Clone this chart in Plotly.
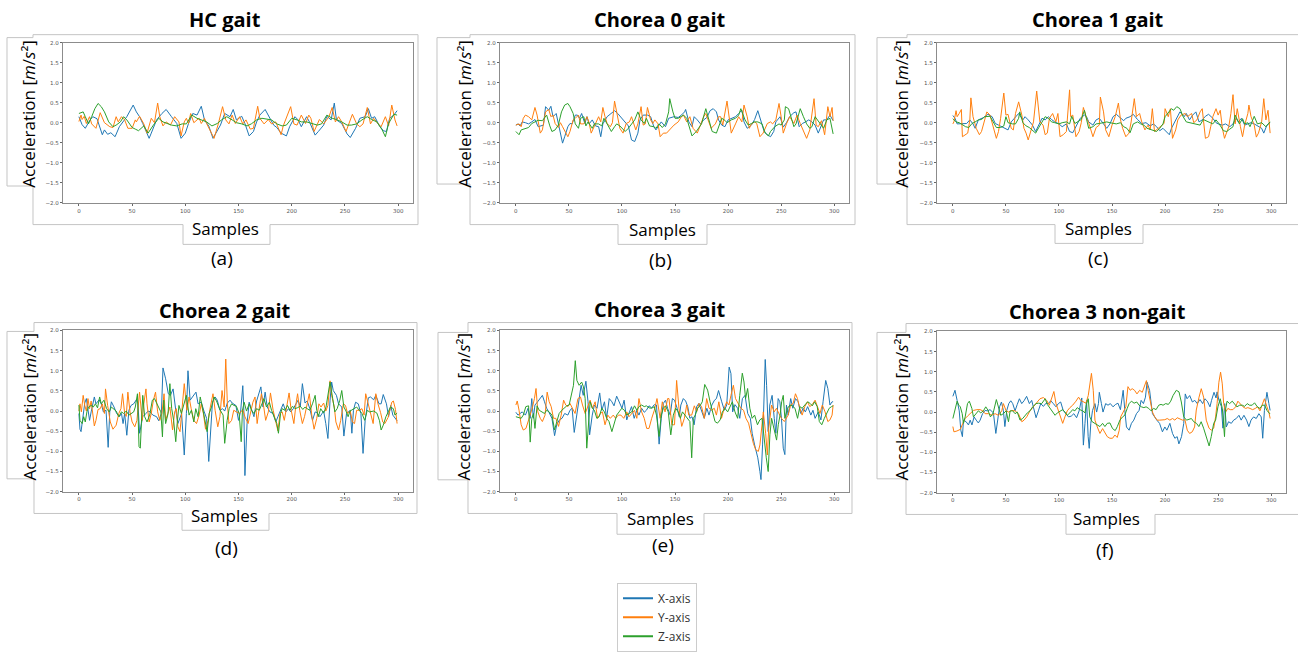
import plotly.graph_objects as go

W, H = 1298, 652

SERIES_NAMES = ["X-axis", "Y-axis", "Z-axis"]
COLORS = ["#1f77b4", "#ff7f0e", "#2ca02c"]
TITLES = ["HC gait", "Chorea 0 gait", "Chorea 1 gait", "Chorea 2 gait", "Chorea 3 gait", "Chorea 3 non-gait"]
CAPTIONS = ["(a)", "(b)", "(c)", "(d)", "(e)", "(f)"]
X_TICKS = [0, 50, 100, 150, 200, 250, 300]
Y_TICKS = [-2.0, -1.5, -1.0, -0.5, 0.0, 0.5, 1.0, 1.5, 2.0]

# ---------------- (a) HC gait : (sample, acceleration) ----------------
A_X = [(0,.15),(3,-.05),(6,-.14),(10,.05),(13,.15),(17,.10),(22,-.30),(24,-.18),(27,-.29),(30,-.25),(34,-.35),(38,-.10),(45,.15),(51,.44),(54,.27),(57,.15),(60,-.02),(66,-.39),(68,-.26),(73,.07),(78,.23),(82,.33),(87,.15),(92,-.02),(96,-.39),(100,-.26),(103,-.02),(107,.23),(111,.19),(115,.41),(118,.07),(122,-.08),(126,-.39),(129,-.26),(133,-.06),(137,.23),(142,.15),(145,.33),(148,.07),(153,.16),(156,-.02),(160,-.33),(164,-.22),(167,.02),(170,.19),(175,.33),(179,.15),(183,-.06),(186,-.12),(190,-.26),(195,-.33),(198,-.10),(203,.15),(206,.07),(209,-.10),(214,.15),(217,0),(222,-.31),(225,-.22),(230,-.06),(233,.16),(237,.07),(240,.49),(242,.07),(247,-.02),(252,-.28),(255,-.37),(260,-.14),(264,.11),(269,.15),(272,.35),(275,.11),(278,.15),(282,-.06),(286,-.20),(289,-.22),(292,.11),(296,.19),(299,.30)]
A_Y = [(0,.03),(2,.19),(3,.08),(5,.16),(7,-.02),(10,.15),(12,-.03),(16,-.14),(20,.25),(24,0),(29,-.10),(32,-.12),(35,.15),(37,.02),(40,.15),(43,.07),(46,-.14),(50,-.14),(53,.07),(54,.02),(57,.16),(61,-.03),(64,-.26),(68,.11),(71,0),(74,.49),(76,.15),(79,-.08),(82,.02),(86,-.06),(90,.15),(94,.02),(96,-.33),(99,.02),(101,.11),(103,-.02),(105,.23),(108,0),(111,.07),(113,.11),(115,-.02),(118,.11),(120,-.02),(125,-.26),(127,-.39),(131,-.03),(135,.40),(138,.07),(141,-.03),(144,.19),(147,-.02),(151,.15),(154,-.03),(157,.07),(161,-.16),(164,-.14),(168,.41),(170,.11),(174,-.03),(178,.08),(181,-.03),(185,.02),(190,-.30),(192,-.08),(199,.40),(202,-.03),(205,-.06),(209,.19),(213,-.02),(216,.19),(218,.11),(221,-.22),(224,-.06),(226,.08),(230,-.03),(235,.15),(238,.38),(241,.02),(244,.15),(247,.02),(251,-.22),(255,.07),(257,.21),(261,-.03),(264,-.10),(267,-.03),(271,.38),(274,-.03),(277,.11),(281,-.02),(284,-.10),(288,.15),(291,-.08),(294,.44),(297,.07),(299,-.08)]
A_Z = [(0,.23),(4,.27),(6,.15),(9,-.03),(12,.15),(15,.35),(18,.48),(21,.40),(24,.27),(28,.02),(32,-.10),(35,-.06),(39,.02),(42,.15),(45,.07),(50,-.12),(53,-.16),(56,-.20),(61,-.08),(65,-.26),(70,-.06),(75,.11),(79,.02),(83,-.02),(87,-.06),(92,-.08),(97,-.03),(101,-.03),(106,.19),(111,.11),(115,.07),(120,.02),(125,-.08),(130,-.02),(134,.07),(139,.15),(144,.07),(148,0),(153,-.03),(158,-.08),(162,-.03),(167,.07),(172,.11),(177,.08),(181,.07),(186,-.03),(191,-.08),(195,-.06),(200,.11),(205,.07),(209,.02),(214,.02),(219,-.03),(224,-.06),(228,-.03),(233,.19),(238,.11),(242,.08),(247,.02),(252,-.06),(256,-.06),(261,-.03),(266,.07),(271,.15),(275,.08),(280,.02),(285,-.18),(288,-.35),(291,-.02),(296,.21),(299,.19)]

# ---------------- (b) Chorea 0 gait ----------------
B_X = [(0,-.06),(2,-.03),(4,-.08),(6,.02),(9,0),(12,-.03),(15,.02),(18,.08),(21,-.10),(26,-.06),(28,.40),(31,.31),(33,.41),(35,.15),(38,.23),(40,0),(42,-.26),(44,-.51),(46,-.35),(49,-.10),(51,-.02),(53,-.03),(56,.19),(58,.19),(60,.11),(62,.23),(65,-.02),(67,.15),(69,-.03),(72,.07),(75,-.08),(78,-.10),(80,-.35),(82,-.03),(86,.15),(89,.21),(93,.30),(96,.23),(99,.13),(103,.02),(106,-.08),(109,-.43),(112,-.47),(115,-.26),(117,.07),(120,.19),(124,.19),(127,.15),(130,-.10),(132,-.18),(135,-.06),(137,.02),(141,-.10),(144,.11),(149,.15),(153,.13),(156,.19),(159,.27),(160,.33),(163,.02),(166,-.10),(168,.15),(171,.07),(174,-.03),(177,.07),(180,.13),(183,.30),(186,.35),(189,.27),(191,.07),(194,-.06),(197,-.10),(200,.07),(203,.11),(207,.15),(210,.23),(213,.31),(215,.02),(218,-.14),(222,-.06),(225,.08),(228,.30),(231,.02),(234,-.22),(237,-.30),(240,-.35),(243,-.22),(245,.02),(249,.15),(252,-.11),(255,0),(258,.15),(262,.25),(264,.27),(267,-.10),(270,-.02),(273,.02),(276,.07),(279,.02),(282,-.06),(285,-.26),(287,-.11),(290,.07),(293,.07),(296,.19),(299,.05)]
B_Y = [(0,-.06),(3,-.03),(5,-.10),(7,.11),(9,.19),(12,.15),(15,.07),(18,.38),(20,.19),(23,-.26),(25,-.18),(28,.27),(31,.33),(33,.15),(35,.19),(37,-.02),(40,-.12),(42,0),(44,-.10),(47,-.26),(49,-.35),(51,-.22),(54,.07),(56,.11),(59,.19),(61,-.03),(64,-.03),(67,.15),(69,0),(71,-.26),(75,-.03),(78,.15),(80,.02),(82,.38),(84,.15),(86,-.02),(89,-.10),(91,0),(93,.54),(96,.15),(98,-.14),(101,-.26),(104,-.02),(107,.02),(109,.15),(113,-.18),(115,-.03),(118,.40),(120,-.06),(122,-.03),(124,.38),(127,.07),(129,-.02),(131,.07),(134,-.03),(136,-.35),(139,-.26),(142,-.26),(146,-.14),(149,-.06),(153,.02),(156,.15),(158,.19),(161,.02),(164,.15),(167,-.14),(171,-.26),(174,-.06),(177,.15),(179,.23),(182,-.03),(184,-.14),(188,-.03),(191,.15),(193,.15),(195,-.06),(199,.54),(201,.15),(203,-.26),(207,-.03),(210,.15),(213,.02),(215,.44),(218,.15),(220,-.14),(222,-.03),(225,.02),(227,-.02),(230,-.35),(233,-.26),(237,-.02),(240,.02),(242,-.03),(245,.07),(248,.48),(250,.15),(252,-.26),(255,-.03),(258,.15),(262,-.02),(265,.19),(268,-.02),(270,-.14),(274,-.39),(277,-.18),(281,.60),(283,-.06),(285,-.10),(288,.05),(291,-.30),(294,.40),(296,.15),(298,.38),(299,.05)]
B_Z = [(0,-.22),(3,-.30),(5,-.18),(9,-.14),(12,-.12),(15,-.02),(18,.02),(21,.06),(25,.05),(29,.19),(32,-.08),(34,-.22),(37,-.18),(40,-.06),(43,.27),(46,.44),(49,.48),(51,.40),(54,.23),(56,-.03),(59,-.14),(61,.11),(64,.15),(66,-.08),(68,.02),(72,-.14),(74,-.03),(78,-.03),(81,-.08),(83,.11),(86,-.03),(90,-.22),(93,-.10),(95,-.03),(98,-.08),(103,-.22),(106,-.14),(109,-.03),(112,.07),(115,.27),(118,.07),(121,-.02),(123,.11),(126,-.08),(130,-.10),(132,-.14),(135,-.03),(138,-.12),(141,-.03),(144,.27),(145,.60),(148,.27),(150,.11),(153,.11),(156,.15),(158,.19),(161,.11),(165,-.22),(166,-.33),(170,-.22),(173,-.10),(175,-.03),(179,.35),(182,.07),(185,-.22),(189,-.26),(192,-.03),(194,.11),(197,.06),(199,0),(203,.07),(207,.11),(210,.19),(212,.35),(216,.07),(219,-.06),(222,-.02),(225,.02),(228,.02),(232,-.03),(235,-.26),(238,-.33),(240,-.22),(244,-.10),(248,-.03),(250,-.06),(253,.07),(254,.40),(257,.35),(260,.07),(262,-.10),(264,-.03),(268,.35),(271,.15),(274,-.03),(277,-.14),(279,-.10),(282,.15),(286,.02),(290,-.14),(293,.07),(296,.11),(299,-.28)]

# ---------------- (c) Chorea 1 gait ----------------
C_X = [(0,.18),(2,.11),(4,-.03),(8,-.03),(13,-.02),(16,.07),(19,-.03),(21,-.14),(24,.07),(29,.13),(33,.21),(37,.15),(40,-.02),(43,-.06),(46,-.10),(49,-.14),(52,-.18),(55,.02),(59,.15),(62,.23),(66,.07),(68,.15),(71,.07),(75,-.06),(78,-.22),(81,-.06),(84,.11),(87,.07),(90,.15),(93,.08),(96,.02),(100,-.03),(103,-.10),(107,-.03),(110,-.22),(113,-.25),(117,-.03),(120,.11),(124,.19),(126,.15),(128,.02),(132,-.06),(135,.07),(138,.11),(142,-.03),(145,-.14),(148,-.03),(151,.15),(154,.21),(158,.13),(161,.05),(163,.11),(167,.15),(170,.21),(174,.08),(178,-.02),(182,0),(186,-.08),(189,-.03),(192,-.10),(195,-.20),(198,-.14),(201,-.22),(204,-.30),(206,-.14),(209,.02),(212,.15),(214,.27),(218,.15),(220,.23),(223,.07),(226,.19),(229,.27),(232,.02),(235,.07),(238,.16),(241,.21),(245,.11),(248,0),(250,-.03),(254,-.06),(257,-.03),(261,-.10),(264,-.03),(267,.11),(269,.02),(272,.11),(275,-.06),(278,-.03),(281,0),(284,-.03),(288,-.10),(291,-.14),(293,-.26),(296,-.06),(299,0)]
C_Y = [(0,-.03),(1,.02),(3,.30),(4,.15),(6,.23),(8,.33),(9,-.35),(11,-.31),(14,-.26),(16,.07),(17,.62),(19,.15),(22,-.14),(25,-.30),(27,-.22),(30,.07),(32,.27),(35,.19),(37,-.02),(41,-.39),(43,-.22),(45,.11),(48,.74),(50,.19),(52,.21),(55,-.14),(57,-.18),(59,.23),(62,.52),(65,.19),(67,-.14),(69,-.26),(71,-.43),(73,-.22),(76,.02),(79,.79),(82,.02),(85,-.06),(87,-.30),(89,-.26),(91,.11),(94,.23),(97,.02),(99,.23),(101,-.35),(104,-.30),(107,-.22),(110,.82),(111,.15),(113,.19),(116,-.35),(119,-.22),(121,0),(123,.38),(126,.11),(128,0),(132,-.35),(135,-.12),(138,-.06),(139,.64),(142,.27),(144,-.18),(147,-.35),(150,-.06),(153,.15),(156,.49),(158,.07),(160,-.14),(163,-.35),(166,-.26),(168,.02),(171,.60),(173,.15),(176,.23),(178,.02),(181,-.18),(184,-.06),(186,-.18),(188,.35),(190,-.22),(193,-.16),(196,-.10),(199,-.02),(200,.35),(203,.15),(205,.35),(207,-.39),(210,-.18),(212,.07),(215,.19),(219,.23),(221,.15),(225,.23),(227,0),(230,.07),(233,.27),(235,.35),(238,-.39),(241,-.35),(243,-.10),(245,.15),(248,.35),(250,.19),(252,.31),(254,-.14),(256,-.39),(260,-.10),(262,.23),(264,.70),(266,-.03),(268,.35),(271,-.10),(273,-.35),(275,-.06),(278,.23),(279,.44),(281,.15),(284,-.06),(286,-.36),(288,-.26),(291,.02),(293,.60),(295,.07),(297,.31),(299,-.26)]
C_Z = [(0,.10),(3,.02),(6,0),(8,-.03),(12,-.10),(15,-.12),(18,-.02),(21,.02),(24,.07),(27,.08),(30,.15),(35,.16),(38,0),(41,-.12),(45,-.12),(48,-.08),(50,.15),(52,0),(56,-.03),(59,-.03),(62,.11),(63,.27),(66,0),(69,-.08),(72,-.12),(76,-.22),(78,-.26),(81,-.12),(84,0),(87,.15),(90,.11),(93,.02),(96,0),(100,-.03),(103,0),(107,.02),(110,-.03),(112,.16),(115,-.02),(118,.02),(121,.08),(124,.31),(126,.07),(128,-.14),(132,-.10),(135,-.03),(138,-.02),(142,0),(145,.02),(148,0),(151,-.02),(154,-.03),(158,0),(161,-.10),(164,-.14),(167,-.25),(170,-.03),(174,.02),(177,-.03),(180,-.06),(183,-.14),(187,-.18),(192,-.22),(195,-.14),(198,-.03),(200,.15),(203,.25),(206,.35),(208,.31),(211,.40),(214,.35),(217,.15),(220,.02),(224,0),(227,-.03),(230,-.03),(233,-.06),(236,.08),(239,.05),(242,.02),(245,-.03),(248,.07),(251,-.03),(255,-.20),(258,-.22),(261,-.16),(264,-.10),(266,.19),(270,-.03),(273,.10),(275,-.03),(278,0),(280,-.10),(284,.16),(287,-.03),(291,0),(295,-.10),(299,.02)]

# ---------------- (d) Chorea 2 gait ----------------
D_X = [(0,-.06),(1,-.45),(2,-.51),(4,-.14),(5.5,.20),(7,.31),(8.5,.09),(10,-.23),(11.5,-.02),(13,.18),(14.5,.35),(16,.18),(19,.28),(21,.18),(23,-.02),(25.5,.02),(27.5,-.90),(29,-.02),(30.5,.23),(33,.10),(35.5,-.06),(38,-.14),(40,-.06),(41.5,-.31),(43,-.06),(45,-.60),(47,.02),(49,.14),(51.5,.18),(54,.28),(55.5,.20),(57,-.55),(58.5,-.31),(60,-.14),(63,-.06),(65,0),(67,-.02),(69.5,-.10),(73,-.14),(75,-.24),(77.5,-.06),(79,1.07),(81.5,.80),(84,.43),(86,.39),(88.5,.55),(91,.02),(93,-.31),(96.5,-.06),(99,-1.09),(101,-.06),(102.5,1.0),(104.5,.27),(107,.35),(110,.47),(112,.18),(115,.22),(117.5,0),(120,-.18),(122,-1.25),(124,-.31),(125.5,.22),(128,.35),(130,.27),(132.5,.02),(135,.06),(137,0),(139.5,.20),(142,.27),(144,.20),(147.5,.14),(150,-.23),(152,0),(154,.63),(155,.02),(156,-1.6),(158,-.31),(160,.22),(162,.06),(164.5,-.14),(167,.25),(169,.43),(171,.60),(173,.10),(175,.47),(177,.10),(179.5,-.02),(182.5,-.06),(185,-.27),(187,-.14),(189.5,.02),(192,.18),(194.5,-.02),(197,.06),(199,-.02),(201.5,.06),(204,.18),(206,.27),(208,.10),(210,.68),(212.5,.20),(214.5,.25),(217,.06),(219.5,-.23),(222,-.02),(224,-.05),(226.5,-.14),(230,0),(232,-.31),(234,-.68),(236,.27),(237.5,.72),(239,.51),(242,.39),(244,.18),(247,.10),(249,-.62),(251.5,-.06),(255,.02),(256.5,-.55),(258,.02),(260,.22),(262.5,.18),(265,-.06),(267,-1.05),(269,-.23),(272,.33),(274,.35),(277,.28),(279,.39),(282,.18),(284,.18),(286,.41),(289,.18),(291,-.14),(293,.14),(295,-.10),(297,-.18),(299,-.24)]
D_Y = [(0,0),(1,.18),(2.3,-.02),(4,.39),(5.5,.14),(7,0),(8.5,.31),(10,.06),(11.5,.25),(13,-.02),(14.5,-.37),(16,-.23),(18,.04),(20,.06),(22,.18),(24,-.06),(25,.55),(27,.14),(29.5,-.27),(32,-.45),(35,-.35),(37.5,-.06),(39.5,.06),(41,.43),(43,-.06),(44.5,-.13),(46,.47),(48,-.02),(50,-.27),(52.5,-.39),(54.5,-.23),(57,.47),(59.5,-.23),(61,.18),(63,.55),(64,.18),(66,-.27),(68,-.06),(70,.27),(72,.47),(74,-.02),(76,-.23),(78,-.06),(80,.43),(81.5,-.23),(84,-.02),(85.5,.10),(88,-.47),(90,-.02),(91.5,.06),(93,-.39),(95,-.51),(96.5,-.06),(99,.68),(101.5,.02),(103.5,.35),(105.5,.06),(108,-.23),(110.5,-.31),(113,-.10),(115,.18),(117,-.06),(119,-.45),(121.5,-.23),(123.5,.10),(126,.43),(128,.02),(130.5,-.39),(132.5,-.14),(134.5,.51),(136.5,.10),(138,1.29),(139.5,.18),(141,-.31),(143.5,-.23),(145.5,.02),(148,-.02),(151,-.06),(154,.04),(156,-.14),(159,-.31),(161,-.06),(163.5,.22),(165.5,.35),(167.5,-.31),(170,.18),(171.5,.43),(173.5,.14),(175.5,-.23),(178,-.02),(180,.45),(182.5,.02),(185,-.31),(187,-.49),(189,-.06),(191,-.02),(193,-.23),(195.5,.18),(197.5,.45),(199.5,.02),(202,-.31),(204,.18),(205.5,.43),(207.5,.02),(210,-.31),(212,-.14),(214.5,.14),(216.5,.43),(219,-.14),(221,-.45),(223.5,-.18),(225.5,.18),(227.5,.10),(230,.20),(232,0),(234,.14),(236,.75),(237.5,.39),(240,.10),(241.5,-.27),(244,-.47),(246,-.23),(248.5,.18),(250.5,.14),(252.5,-.06),(255,0),(257,-.27),(259,-.31),(261,.02),(263.5,.02),(266,.06),(268,-.10),(269.5,.43),(272,.14),(274,-.06),(276.5,-.31),(279,.43),(281,.18),(283.5,-.04),(285.5,-.27),(287.5,-.31),(290.5,-.16),(294,.22),(295.5,.25),(297.5,.04),(299,-.31)]
D_Z = [(0,.15),(1,-.23),(3,-.31),(4.5,-.14),(6,-.27),(7.5,-.02),(9,.10),(11.5,.14),(13.5,.10),(15.5,.18),(17.5,.08),(19.5,.35),(21,.18),(23.5,.27),(26,.06),(28.5,-.02),(30.5,.10),(32.5,.06),(35,0),(37.5,-.14),(40,-.02),(42,-.06),(44.5,0),(47,-.10),(49,-.06),(51.5,-.02),(53,.10),(55,.43),(56.5,-.88),(57.7,-.92),(58.7,-.31),(60,.39),(61.8,-.14),(64,-.27),(66.5,-.10),(69,.27),(71,.31),(73.5,.18),(75.5,.06),(77,-.02),(78.5,-.64),(79.7,.27),(81.5,-.31),(83.8,-.06),(85.5,.68),(87.2,.06),(89,-.23),(91,-.76),(92.3,-.31),(94,.14),(96.3,-.06),(98.5,.18),(101,.39),(103.5,-.10),(105.7,.02),(108,-.27),(109.8,.06),(112,-.14),(114,.35),(116,.10),(118.3,-.23),(120.5,-.51),(122.4,-.06),(124.6,.10),(127,.35),(129.3,.25),(132.4,.04),(135.5,-.10),(137,-.80),(139.3,-.23),(141.2,.06),(143.5,.18),(145.7,.14),(148,.12),(150.6,-.06),(152.5,-.76),(153.7,.02),(155.3,.22),(157.5,0),(160,.18),(162.2,.02),(164.4,-.06),(167,.06),(169.5,.02),(172,.18),(173.8,.31),(176.3,.10),(179,.22),(181,.02),(183.3,-.14),(186,-.31),(187.5,-.55),(189.5,-.06),(191,.06),(193.6,.02),(196,.14),(198.3,.02),(200.8,.12),(203,.06),(205.2,.08),(208,.12),(210.4,.04),(212.5,.10),(214.5,.06),(217,.02),(219.5,.18),(222,.39),(223.5,.02),(225,-.14),(227.2,.06),(230,-.05),(232.2,.10),(234.5,.47),(236,.72),(238.5,.31),(240.5,-.02),(242.7,.06),(245.2,.27),(247,.51),(249,.10),(251,0),(253,-.14),(254.8,0),(258,.06),(261,.10),(263.5,.02),(266,-.06),(268.5,-.23),(271,.02),(273,-.02),(277,0),(280,-.05),(282.5,-.24),(284,-.47),(286,-.35),(288.5,-.14),(290.5,-.02),(292.8,.10),(295.5,.06),(297,-.10),(299,-.05)]

# ---------------- (e) Chorea 3 gait ----------------
E_X = [(0,-.03),(2,-.10),(4,-.06),(6,-.02),(9,-.10),(11.5,.07),(13.5,-.18),(15,.31),(16.5,-.18),(18,.15),(20.5,.23),(23,.31),(25,.39),(27,.23),(29,.07),(31,-.02),(34,-.18),(36.5,-.61),(38.5,-.34),(41,-.22),(43.5,-.18),(46,-.06),(49,-.10),(51,.02),(53,.07),(55,-.53),(57,-.18),(59,.15),(61.5,.64),(63.5,.39),(66,.74),(68,.23),(69.5,-.59),(72,-.10),(74,.15),(76.5,.07),(79,.45),(81,.02),(83.5,.23),(85.5,-.18),(88,.31),(90.5,.23),(92.5,.13),(95,.37),(97.5,.23),(100,.07),(102,.27),(104.5,-.22),(106.5,-.06),(109,.11),(111.5,-.18),(114,.02),(116,-.10),(118.5,.07),(121,-.03),(123,.02),(125.5,.13),(128,.08),(130.5,.16),(132.5,.15),(135,-.82),(137,-.18),(139,.19),(141,.27),(143,.07),(145.5,-.10),(147.5,.31),(149.5,.27),(152,.07),(154,-.14),(155.5,.15),(157.8,.31),(160,.25),(162,.11),(164,-.18),(166,-.14),(168,-.34),(170.3,.11),(172.5,.19),(175,.02),(177.5,-.18),(180,.07),(182,-.10),(184.7,.15),(187.2,.27),(189,.31),(191,.51),(194,.23),(196.5,.02),(198.7,.15),(201,1.09),(202.7,.93),(204.3,-.02),(206.5,.16),(209,.07),(211,-.18),(213.5,.31),(216,.39),(218.5,-.06),(221,-.18),(222.7,-.55),(225,-.84),(228,-1.16),(230,-1.5),(231,-1.7),(232.5,-.84),(234,.80),(235,1.28),(236.3,.64),(237.8,-.51),(239.3,.15),(241.5,.39),(243.5,-.18),(245,-.55),(247.2,.31),(248.8,.23),(250.3,-.18),(252,-.92),(253.5,-1.08),(255,.15),(256.6,-.10),(259,.31),(261,.07),(263.5,.31),(266,.23),(268.5,-.06),(270.7,.07),(272.8,-.02),(275,.11),(278,-.10),(280,.02),(282,-.18),(285,-.02),(287.5,-.22),(289.5,.23),(292,.76),(294,.56),(296,.15),(298,.23),(299,.23)]
E_Y = [(0,.15),(1.3,.25),(3,.02),(5,-.34),(7,-.47),(9.5,-.43),(12,-.22),(14,-.06),(15.8,.11),(17.5,.31),(19,.56),(20.7,-.02),(23,-.18),(25,-.26),(27.5,-.10),(29.5,.47),(31.4,.23),(33.3,.11),(35.5,-.18),(37.7,-.18),(40.2,-.38),(42.7,-.10),(45,.27),(47,.15),(49,.11),(51,.19),(53,.07),(55.8,-.06),(58.5,.31),(60.9,.35),(62.8,.15),(65.3,-.06),(68,.13),(70,.27),(72.2,.07),(74.7,.23),(77,-.18),(79.7,-.06),(81.6,-.02),(84,-.34),(86.6,-.10),(89,-.18),(91.8,-.10),(94,-.18),(96.6,-.10),(99,-.10),(101.7,-.18),(104.5,-.02),(106.7,-.14),(109.2,-.06),(111.8,.02),(114,-.18),(116,.31),(118.5,-.02),(121,-.18),(123.3,-.43),(125.5,-.43),(128,-.18),(130.5,.02),(133,.31),(134.3,.07),(136,-.18),(138,.23),(140.6,-.02),(143,.31),(144.3,.31),(147,-.34),(149.5,-.34),(151.5,.76),(153.7,.07),(156.3,-.38),(158.8,-.18),(161,.15),(163,-.10),(165.7,-.10),(168.2,.13),(170.4,-.02),(172.6,.19),(175,.11),(177.6,-.18),(179.8,.31),(182,.07),(184.5,.02),(187,.07),(189,-.10),(191.3,.23),(193.8,-.18),(196.3,.07),(198.7,.23),(200.8,.15),(202.7,.39),(205,.64),(207,.31),(209.5,.19),(212,.07),(214.6,.02),(216.8,-.18),(219.3,-.30),(221.5,-.59),(223.8,-.80),(226,-.96),(228.5,-1.0),(230,-.84),(231.6,-.34),(233.2,-.02),(235.4,-.55),(237,-1.09),(238.3,-.43),(241,.15),(243.5,-.02),(245.6,.07),(247.8,-.06),(250.3,-.18),(253,-.26),(255,-.18),(256.6,-.10),(259,.15),(261.3,.19),(263.5,.43),(265.4,.31),(267.6,.07),(269.8,-.10),(272.3,.11),(274.8,.23),(277,.11),(279.2,.16),(282,.27),(284.4,.07),(286.6,-.06),(288.8,.15),(291.4,-.02),(294,-.26),(296,-.22),(298,-.10),(299,.15)]
E_Z = [(0,-.14),(2.5,-.16),(5,-.18),(7,-.10),(9.4,.11),(12,.13),(13.5,-.77),(15,-.18),(16.6,-.06),(18,-.43),(20,.13),(22,.02),(24.5,-.02),(27,-.06),(29,.02),(31.4,-.02),(34,-.10),(36.5,-.47),(38.6,-.26),(40.8,-.06),(43.3,.02),(45.8,.07),(48,.13),(50.2,.15),(52,.35),(54.3,.64),(56,1.25),(57.5,.76),(59.6,.64),(62,.72),(63.7,.60),(65.3,.31),(66.8,-.92),(68.4,-.26),(70,.23),(72,.07),(74,.02),(76.3,-.18),(78.5,-.14),(81,.07),(83.4,-.02),(85.6,-.18),(87.8,-.26),(90.5,-.51),(93,-.26),(95,-.10),(97.3,-.02),(99.8,.07),(102.3,.02),(104.5,-.10),(106.7,-.06),(109.2,-.02),(111.8,.13),(114,.02),(116,.11),(118.5,.15),(121,.11),(123,.13),(125.5,.08),(128,.07),(130.5,.11),(132.5,-.10),(135,-.63),(137,-.10),(139,.07),(141,.13),(143.6,-.02),(146,-.59),(148.4,-.10),(150.6,.07),(153,-.02),(155,-.18),(157,-.02),(159.4,-.10),(162,-.18),(164,-.26),(165.7,-1.16),(167.3,-.18),(169,-.10),(171.3,.07),(173.5,.13),(175.7,.23),(178,.66),(180.7,.52),(183,.23),(185.2,.02),(187.7,-.26),(190,-.30),(192.5,-.22),(194.6,-.02),(197,.07),(199.6,-.02),(201.7,.11),(204,.23),(206.5,-.02),(209,-.18),(211,.39),(213.4,.94),(215,.72),(216.5,.31),(218.4,.56),(220.5,.07),(222.7,-.18),(225,-.10),(227.7,-.34),(229.9,-.22),(232,-.18),(233.7,-.67),(236,-1.16),(237.8,-1.5),(239.4,-.59),(241,-.18),(243.5,-.43),(245.7,-.72),(247.3,-.34),(249,-.10),(250.5,.23),(252,.39),(253.5,-.18),(256,.07),(258.3,.15),(260.5,.13),(263,.07),(265.5,-.18),(267.6,.11),(269.8,.07),(272.3,.15),(275,.23),(277.3,.19),(279.4,.13),(281.6,.23),(284,.11),(286,-.26),(288.3,-.34),(290.7,-.18),(293,-.06),(295.3,.07),(297.5,.11),(299,.13)]

# ---------------- (f) Chorea 3 non-gait ----------------
F_X = [(0,.39),(2,.54),(4,.29),(6,.03),(7.5,-.45),(9,-.61),(10,-.20),(12.5,-.24),(14.7,-.32),(16.3,-.20),(18,-.32),(20,-.12),(22,-.20),(24,-.27),(25.7,-.20),(28,-.04),(30.4,.04),(32.6,.03),(35,.06),(38.2,-.02),(40.5,-.53),(42,-.28),(44,.13),(45.8,.25),(47.6,.04),(49,-.36),(50.8,.04),(52.7,.21),(54.6,.28),(56.4,.21),(58.6,.03),(60.7,.19),(62.7,.33),(64.9,.21),(67.1,.28),(69.5,.39),(72.1,.21),(74.3,.29),(76.5,.03),(78.4,-.14),(80.6,.03),(82.8,.21),(85.3,.14),(87.8,.22),(90,.21),(92.2,.28),(94.7,.21),(97.2,.13),(99.4,.21),(101.6,.25),(104,.04),(106.7,-.04),(109,-.12),(111.6,-.10),(114,-.04),(116.6,-.14),(119,.03),(121.5,.35),(123,-.82),(124.5,-.28),(126,.29),(127.5,-.61),(128.5,-.90),(130,-.28),(131.6,.04),(133.9,.21),(135.5,0),(137.2,.21),(138,.49),(140,.21),(141.5,0),(144,.21),(146.2,.17),(148.4,.21),(150.9,.13),(153.4,.19),(155.6,.22),(157.9,.06),(160.5,.54),(162,.06),(163.6,-.37),(166.1,-.45),(168.3,-.28),(170.5,-.20),(173,-.04),(175.5,.04),(177.4,.29),(179.6,.21),(181.5,.37),(183,.74),(185.4,.54),(188.1,-.04),(190,-.12),(192.2,-.20),(194.8,-.28),(197.5,-.49),(199.8,-.37),(201.7,-.45),(204.5,-.28),(207,-.53),(209.2,-.65),(211.4,-.61),(213,-.79),(215.5,-.61),(217.6,-.28),(219,.45),(220.7,.33),(223.2,.41),(225.7,.25),(228,.29),(230.3,.21),(232.9,.31),(235.4,.21),(237.5,.33),(239.8,.27),(242.3,.13),(243.8,.29),(246.1,.49),(248,.35),(249,.50),(250.8,.29),(253,.14),(254.5,-.40),(256.2,.21),(257.7,-.37),(259.8,-.24),(262.4,-.28),(264.6,-.20),(267.1,-.16),(269.6,-.08),(271.7,-.20),(274.3,-.08),(276.8,-.20),(279,-.36),(281,-.20),(283.4,-.12),(285.9,-.16),(288.4,-.04),(290.6,-.12),(292,-.65),(293.6,.04),(296,.49),(297.8,.21),(299,.04)]
F_Y = [(0,-.36),(1,-.49),(3.8,-.47),(7,-.43),(9.4,-.28),(11.6,-.16),(13.8,-.10),(16.3,-.04),(19.4,.04),(22.6,.06),(25.7,.06),(28.2,.03),(30.4,-.04),(33.5,-.04),(36.7,-.08),(39.8,-.04),(43,-.08),(46.1,.03),(47.6,.21),(50.2,.03),(52.4,0),(55.5,.04),(58.6,.03),(61.8,-.04),(65,-.24),(67.1,-.20),(69.6,-.12),(72.7,.03),(75.9,.13),(79,.25),(82.1,.33),(85.3,.36),(88.4,.29),(90.9,.17),(93,.33),(95.2,.51),(97.2,.21),(99.4,.03),(101.6,-.12),(103.5,-.28),(105.6,-.12),(107.8,.03),(110.3,.11),(112.9,.17),(116,.27),(118.5,.37),(120.4,.29),(122.9,.25),(125.4,.22),(127.6,.41),(129,.72),(130.6,.96),(132.3,.54),(133.9,-.20),(136.1,-.37),(138.6,-.53),(141.1,-.41),(143.3,-.53),(145.5,-.61),(148,-.65),(150.5,-.65),(152.7,-.57),(154.9,-.63),(156.8,-.45),(158.1,-.12),(160.5,0),(163,.13),(165,.63),(167.1,.54),(169,.58),(171.2,.54),(173.5,.45),(176,.54),(178.5,.49),(180.8,.70),(182.4,.78),(184,.54),(186.2,.21),(188.1,0),(190.3,-.12),(192.5,-.20),(195,-.20),(197.5,-.20),(199.8,-.19),(202,-.16),(204.5,-.20),(207,-.16),(209.2,-.20),(211.4,-.14),(213.9,-.16),(216.5,-.20),(218.7,-.19),(220.9,-.45),(223.1,-.53),(225.6,-.49),(227.8,-.37),(229.4,.05),(232,.37),(234.1,.58),(236.3,.37),(238.8,-.20),(241.4,-.40),(243.5,-.45),(245.8,-.40),(247.6,-.12),(249,.21),(250.7,.74),(252.3,.99),(253.9,.70),(255.2,.21),(257,0),(259.2,.09),(261.4,.06),(263.9,.06),(266.5,.13),(268.6,.27),(270.8,.21),(273.4,.13),(275.9,.09),(278,.11),(280,.09),(282.5,.06),(285,.09),(287.2,.13),(289.4,.03),(292,.21),(293.6,.33),(296,.13),(297.8,0),(299,-.16)]
F_Z = [(0,-.16),(2.2,.05),(4,.27),(5.6,.17),(7,.13),(8.8,-.04),(10,-.28),(11.6,-.12),(13.8,.21),(15.5,.27),(17.9,.09),(19.4,-.12),(22,-.05),(24,.03),(26.3,-.02),(28.8,.03),(31,.13),(33,.05),(35.4,-.12),(38,-.02),(41,.31),(43,.13),(45.1,-.08),(47.6,-.04),(50.2,.03),(52.4,-.24),(54,.03),(56.4,.03),(58.6,-.04),(60.7,0),(63.3,-.20),(65.8,-.16),(68,-.08),(70.2,-.02),(72.7,.03),(75.2,.13),(78.4,.21),(80.6,.22),(83.7,.21),(87,.33),(89,.19),(91.5,.09),(94,0),(96.3,-.08),(98.5,-.02),(101,.03),(103.5,.06),(105.6,0),(107.8,-.08),(110.3,-.02),(112.9,.06),(115,.03),(117.2,.11),(119.7,.06),(122.3,.03),(124.5,-.02),(126,.21),(127.6,.33),(129,-.12),(131.3,-.24),(133.9,-.28),(136.4,-.32),(138.6,-.36),(141.1,-.28),(143.3,-.36),(145.5,-.28),(148,-.27),(150.5,-.41),(153,-.46),(155,-.36),(157.4,-.20),(159.9,-.12),(162,-.08),(164.3,.09),(166.1,.21),(168.3,.27),(170.8,.22),(173.3,.25),(175.5,.17),(177.7,.13),(180,.11),(182.1,.13),(184.6,.09),(186.8,.03),(189.3,.09),(191.5,.06),(194,.17),(196.2,.19),(198.1,.17),(200.6,.21),(203.1,.19),(205.3,.27),(207.5,.41),(210.6,.54),(213.1,.50),(215.3,.25),(217.6,-.12),(220.2,-.20),(222.6,-.18),(224.8,-.16),(227,-.24),(229.6,-.28),(231.8,-.36),(234,-.24),(236.3,-.40),(238.8,-.61),(241.5,-.84),(243.5,-.61),(245.8,-.28),(247.6,-.20),(249.8,.13),(252,.33),(254,.08),(256,-.61),(257.1,.08),(258.4,.27),(260.8,.21),(263.3,.27),(265.5,.21),(267.7,.13),(270.3,.17),(272.8,.17),(274.9,.14),(277.4,.21),(279.6,.17),(282.1,.17),(284.3,.23),(286.9,.13),(289.4,.09),(291.6,.17),(293.8,.17),(296,.04),(298.6,-.04),(299,-.04)]

PANELS = [(A_X, A_Y, A_Z), (B_X, B_Y, B_Z), (C_X, C_Y, C_Z),
          (D_X, D_Y, D_Z), (E_X, E_Y, E_Z), (F_X, F_Y, F_Z)]

# ---------------- layout geometry (pixels) ----------------
PLOT_BOXES = [(63, 413, 40, 202), (500, 849, 40, 202), (937, 1286, 40, 202),
              (63, 413, 331, 494), (500, 849, 331, 494), (937, 1286, 332, 495)]
TITLE_POS = [(225, 17), (660, 17), (1098, 17), (225, 311), (660, 310), (1097, 312)]
SAMPLES_POS = [(225, 228), (662, 229), (1098, 228), (224, 518), (660, 521), (1106, 521)]
CAPTION_POS = [(222, 258), (660, 260), (1098, 258), (226, 551), (663, 548), (1105, 553)]
YLABEL_POS = [(29, 112), (465, 112), (902, 112), (30, 408), (464, 408), (902, 408)]
FRAMES = [
    [(7,35),(33,35),(33,32),(418,32),(418,224),(270,224),(270,244),(183,244),(183,224),(33,224),(33,185),(7,185)],
    [(437,35),(470,35),(470,32),(855,32),(855,224),(707,224),(707,244),(618,244),(618,224),(470,224),(470,183),(437,183)],
    [(877,35),(907,35),(907,32),(1300,32),(1300,224),(1143,224),(1143,243),(1055,243),(1055,224),(907,224),(907,183),(877,183)],
    [(7,332),(34,332),(34,323),(417,323),(417,516),(269,516),(269,533),(182,533),(182,516),(34,516),(34,481),(7,481)],
    [(438,333),(468,333),(468,323),(852,323),(852,516),(704,516),(704,537),(617,537),(617,516),(468,516),(468,482),(438,482)],
    [(877,333),(906,333),(906,324),(1300,324),(1300,517),(1155,517),(1155,537),(1066,537),(1066,517),(906,517),(906,481),(877,481)],
]

def px(x):
    return x / W

def py(y):
    return 1 - y / H

fig = go.Figure()
layout = dict(width=W, height=H, margin=dict(l=0, r=0, t=0, b=0),
              paper_bgcolor="white", plot_bgcolor="white", showlegend=True)

axis_common = dict(showline=True, mirror=True, linecolor="#8c8c8c", linewidth=1.3,
                   ticks="outside", ticklen=2, tickwidth=0.7, tickcolor="#666",
                   tickfont=dict(size=5.5, color="#555", family="DejaVu Sans"),
                   showgrid=False, zeroline=False, fixedrange=True)

for i, (series, box) in enumerate(zip(PANELS, PLOT_BOXES)):
    k = "" if i == 0 else str(i + 1)
    l, r, t, b = box
    layout["xaxis" + k] = dict(domain=[px(l), px(r)], anchor="y" + k, range=[-14.95, 313.95],
                               tickvals=X_TICKS, **axis_common)
    layout["yaxis" + k] = dict(domain=[py(b), py(t)], anchor="x" + k, range=[-2, 2],
                               tickvals=Y_TICKS, tickformat=".1f", **axis_common)
    for s, name, color in zip(series, SERIES_NAMES, COLORS):
        fig.add_trace(go.Scatter(x=[p[0] for p in s], y=[p[1] for p in s], mode="lines",
                                 line=dict(color=color, width=1), name=name,
                                 legendgroup=name, showlegend=False,
                                 xaxis="x" + k, yaxis="y" + k, hoverinfo="skip"))

# legend-only entries
for name, color in zip(SERIES_NAMES, COLORS):
    fig.add_trace(go.Scatter(x=[None], y=[None], mode="lines", line=dict(color=color, width=2),
                             name=name, legendgroup=name, showlegend=True, xaxis="x", yaxis="y"))

shapes = []
for pts in FRAMES:
    path = "M " + " L ".join(f"{px(x):.5f},{py(y):.5f}" for x, y in pts) + " Z"
    shapes.append(dict(type="path", path=path, xref="paper", yref="paper",
                       line=dict(color="#c4c4c4", width=1), fillcolor="rgba(0,0,0,0)", layer="below"))
layout["shapes"] = shapes

ann = []
for i in range(6):
    tx, ty = TITLE_POS[i]
    ann.append(dict(text="<b>" + TITLES[i] + "</b>", x=px(tx), y=py(ty), xref="paper", yref="paper",
                    showarrow=False, xanchor="center", yanchor="middle",
                    font=dict(size=20, family="Open Sans", color="black")))
    sx, sy = SAMPLES_POS[i]
    ann.append(dict(text="Samples", x=px(sx), y=py(sy), xref="paper", yref="paper",
                    showarrow=False, xanchor="center", yanchor="middle",
                    font=dict(size=17, family="Open Sans", color="black")))
    cx, cy = CAPTION_POS[i]
    ann.append(dict(text=CAPTIONS[i], x=px(cx), y=py(cy), xref="paper", yref="paper",
                    showarrow=False, xanchor="center", yanchor="middle",
                    font=dict(size=19, family="Open Sans", color="black")))
    lx, ly = YLABEL_POS[i]
    ann.append(dict(text="Acceleration [<i>m</i>/<i>s</i>²]", x=px(lx), y=py(ly), xref="paper", yref="paper",
                    showarrow=False, xanchor="center", yanchor="middle", textangle=-90,
                    font=dict(size=17, family="Open Sans", color="black")))
layout["annotations"] = ann

layout["legend"] = dict(x=px(617), y=py(586), xanchor="left", yanchor="top",
                        bordercolor="#cccccc", borderwidth=1, bgcolor="white",
                        font=dict(size=12, family="Open Sans", color="#333"),
                        tracegroupgap=0, itemwidth=30)

fig.update_layout(**layout)
fig.write_html("out.html")
